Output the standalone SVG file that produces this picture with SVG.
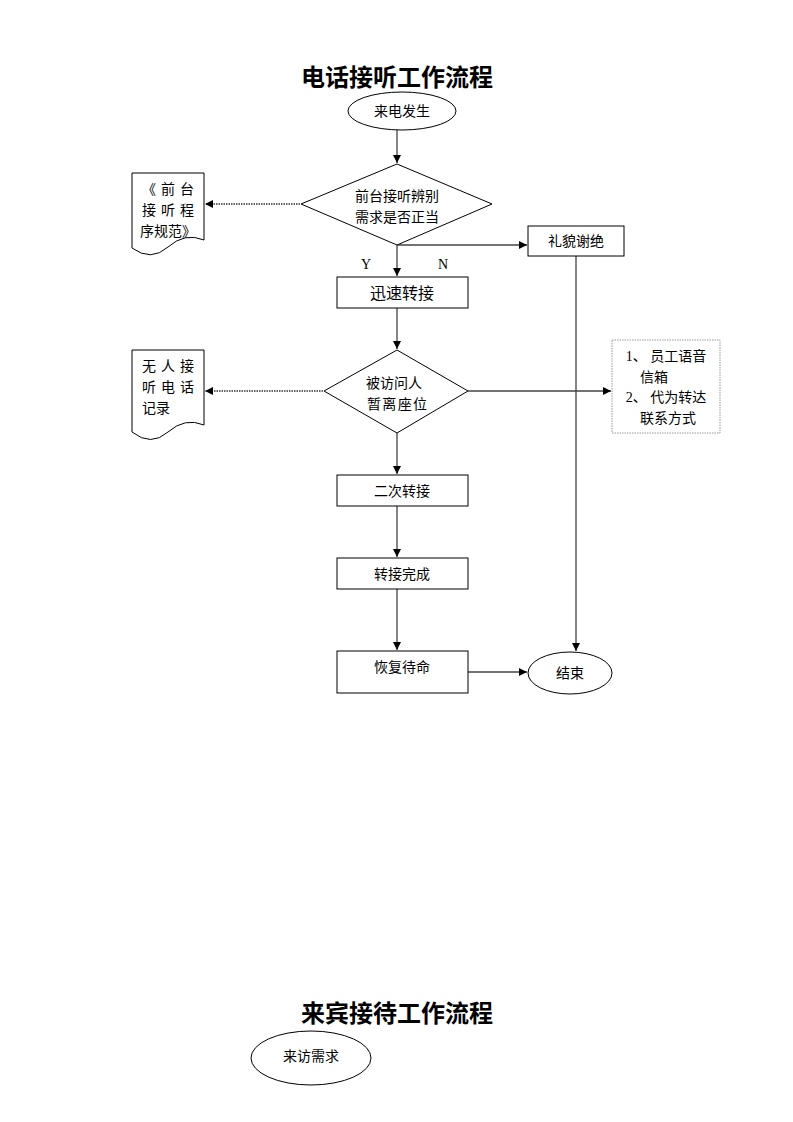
<svg xmlns="http://www.w3.org/2000/svg" width="793" height="1122" viewBox="0 0 793 1122">
<style>
text{font-family:"Liberation Serif","Noto Sans CJK SC",serif;font-size:14px;fill:#000;text-anchor:middle}
.t{font-size:24px;font-weight:bold}
.s{fill:#fff;stroke:#000;stroke-width:1}
.c{fill:none;stroke:#444;stroke-width:1.3}
.d{fill:none;stroke:#333;stroke-width:1.3;stroke-dasharray:1.5 1}
</style>
<defs><marker id="a" viewBox="0 0 10 10" refX="10" refY="5" markerWidth="8" markerHeight="8" markerUnits="userSpaceOnUse" orient="auto"><path d="M0,0L10,5L0,10z" fill="#000"/></marker></defs>
<rect width="793" height="1122" fill="#fff"/>
<text class="t" x="397" y="86">电话接听工作流程</text>
<text class="t" x="397" y="1022">来宾接待工作流程</text>
<g id="connectors">
<path class="c" d="M397,130V163" marker-end="url(#a)"/>
<path class="d" d="M300,204H205" marker-end="url(#a)"/>
<path class="c" d="M397,245H527" marker-end="url(#a)"/>
<path class="c" d="M397,245V276" marker-end="url(#a)"/>
<path class="c" d="M397,308V349" marker-end="url(#a)"/>
<path class="d" d="M323,391H205" marker-end="url(#a)"/>
<path class="c" d="M468,391H611" marker-end="url(#a)"/>
<path class="c" d="M576,256V651" marker-end="url(#a)"/>
<path class="c" d="M397,433V474" marker-end="url(#a)"/>
<path class="c" d="M397,506V557" marker-end="url(#a)"/>
<path class="c" d="M397,589V650" marker-end="url(#a)"/>
<path class="c" d="M468,672H527" marker-end="url(#a)"/>
</g>
<text x="366" y="269">Y</text><text x="443" y="269">N</text>
<g id="start"><ellipse class="s" cx="402" cy="111" rx="54" ry="19"/><text x="402" y="116">来电发生</text></g>
<g id="d1"><path class="s" d="M397,164L492,204L397,245L301,204Z"/><text x="397" y="201">前台接听辨别</text><text x="397" y="222">需求是否正当</text></g>
<g id="doc1"><path class="s" d="M132,173H204V240Q185,232 168,247T132,248Z"/><text x="168" y="194" textLength="52">《前台</text><text x="168" y="215" textLength="52">接听程</text><text x="168" y="236">序规范》</text></g>
<g id="refuse"><rect class="s" x="528" y="226" width="96" height="30"/><text x="576" y="246">礼貌谢绝</text></g>
<g id="b1"><rect class="s" x="337" y="277" width="131" height="31"/><text x="402" y="299" style="font-size:16px">迅速转接</text></g>
<g id="d2"><path class="s" d="M397,350L468,391L397,433L324,391Z"/><text x="394" y="388">被访问人</text><text x="397" y="409" textLength="60">暂离座位</text></g>
<g id="doc2"><rect class="s" x="0" y="0" width="0" height="0"/><path class="s" d="M132,350H204V425Q185,417 168,432T132,432Z"/><text x="168" y="371" textLength="52">无人接</text><text x="168" y="392" textLength="52">听电话</text><text x="156" y="413">记录</text></g>
<g id="note"><rect x="612" y="340" width="108" height="93" fill="#fff" stroke="#999" stroke-dasharray="1.5 1"/><text x="666" y="361">1、 员工语音</text><text x="654" y="382">信箱</text><text x="666" y="402">2、 代为转达</text><text x="668" y="423">联系方式</text></g>
<g id="b2"><rect class="s" x="337" y="475" width="131" height="31"/><text x="402" y="496">二次转接</text></g>
<g id="b3"><rect class="s" x="337" y="558" width="131" height="31"/><text x="402" y="579">转接完成</text></g>
<g id="b4"><rect class="s" x="337" y="651" width="131" height="42"/><text x="402" y="672">恢复待命</text></g>
<g id="end"><ellipse class="s" cx="570" cy="673" rx="42" ry="21"/><text x="570" y="678">结束</text></g>
<g id="visit"><ellipse class="s" cx="311" cy="1058" rx="60" ry="27"/><text x="311" y="1061">来访需求</text></g>
</svg>
